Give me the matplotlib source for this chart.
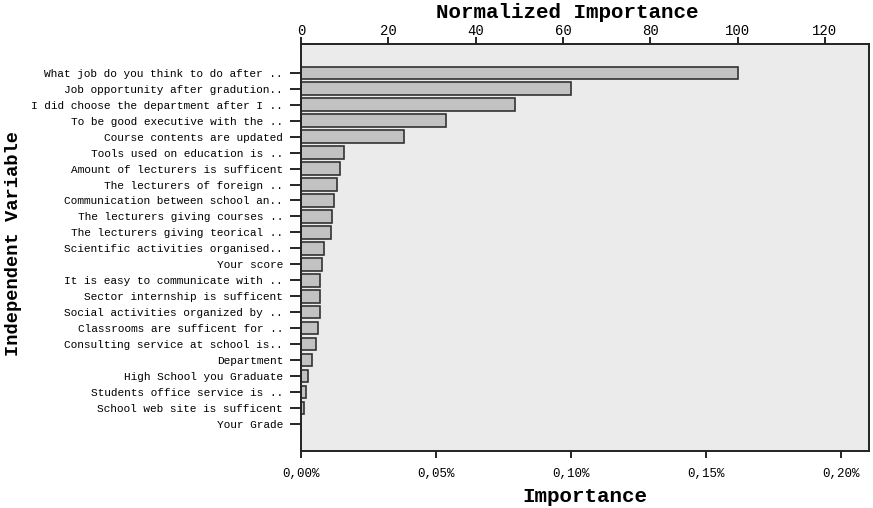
import matplotlib
matplotlib.use("Agg")
import matplotlib.pyplot as plt
from matplotlib.ticker import FuncFormatter

# Data
variables = [
    "What job do you think to do after ..",
    "Job opportunity after gradution..",
    "I did choose the department after I ..",
    "To be good executive with the ..",
    "Course contents are updated",
    "Tools used on education is ..",
    "Amount of lecturers is sufficent",
    "The lecturers of foreign ..",
    "Communication between school an..",
    "The lecturers giving courses ..",
    "The lecturers giving teorical ..",
    "Scientific activities organised..",
    "Your score",
    "It is easy to communicate with ..",
    "Sector internship is sufficent",
    "Social activities organized by ..",
    "Classrooms are sufficent for ..",
    "Consulting service at school is..",
    "Department",
    "High School you Graduate",
    "Students office service is ..",
    "School web site is sufficent",
    "Your Grade",
]
normalized = [100, 61.8, 49.1, 33.2, 23.6, 9.9, 9.0, 8.3, 7.6, 7.2, 6.9,
              5.3, 4.8, 4.4, 4.4, 4.4, 3.9, 3.4, 2.6, 1.6, 1.2, 0.6, 0.0]
max_importance = 0.1617  # in percent

importance = [v * max_importance / 100 for v in normalized]

mono = "Liberation Mono"
W, H = 873, 508

fig = plt.figure(figsize=(W / 100, H / 100), dpi=100)
ax = fig.add_axes([301 / W, 1 - 451 / H, 568 / W, 407 / H])
ax.set_facecolor("#ebebeb")

ypos = list(range(len(variables)))
ax.barh(ypos, importance, height=0.78, color="#c2c2c2",
        edgecolor="#333333", linewidth=1.2)

xmax = 0.2104
ax.set_xlim(0, xmax)
ax.set_ylim(len(variables) - 1 + 1.69, -1.8)
ax.set_yticks(ypos)
ax.set_yticklabels(variables, fontfamily=mono, fontsize=8)
ax.set_xticks([0, 0.05, 0.10, 0.15, 0.20])
ax.xaxis.set_major_formatter(FuncFormatter(lambda v, p: f"{v:.2f}".replace(".", ",") + "%"))
ax.tick_params(axis="x", labelsize=9, length=5, width=1.2, pad=7)
ax.tick_params(axis="y", length=8, width=1.2, pad=5)
for lbl in ax.get_xticklabels():
    lbl.set_fontfamily(mono)

top = ax.twiny()
top.set_xlim(0, xmax / max_importance * 100)
top.set_xticks([0, 20, 40, 60, 80, 100, 120])
top.tick_params(axis="x", labelsize=10, length=5, width=1.2, pad=-1)
for lbl in top.get_xticklabels():
    lbl.set_fontfamily(mono)

for a in (ax, top):
    for s in a.spines.values():
        s.set_linewidth(1.2)
        s.set_color("#222222")

fig.text(585 / W, 1 - 496 / H, "Importance", fontfamily=mono, fontweight="bold",
         fontsize=15, ha="center", va="center")
fig.text(567 / W, 1 - 12 / H, "Normalized Importance", fontfamily=mono,
         fontweight="bold", fontsize=15, ha="center", va="center")
fig.text(14 / W, 1 - 243 / H, "Independent Variable", fontfamily=mono,
         fontweight="bold", fontsize=13.5, ha="center", va="center", rotation=90)

fig.savefig("out.png", dpi=100)
